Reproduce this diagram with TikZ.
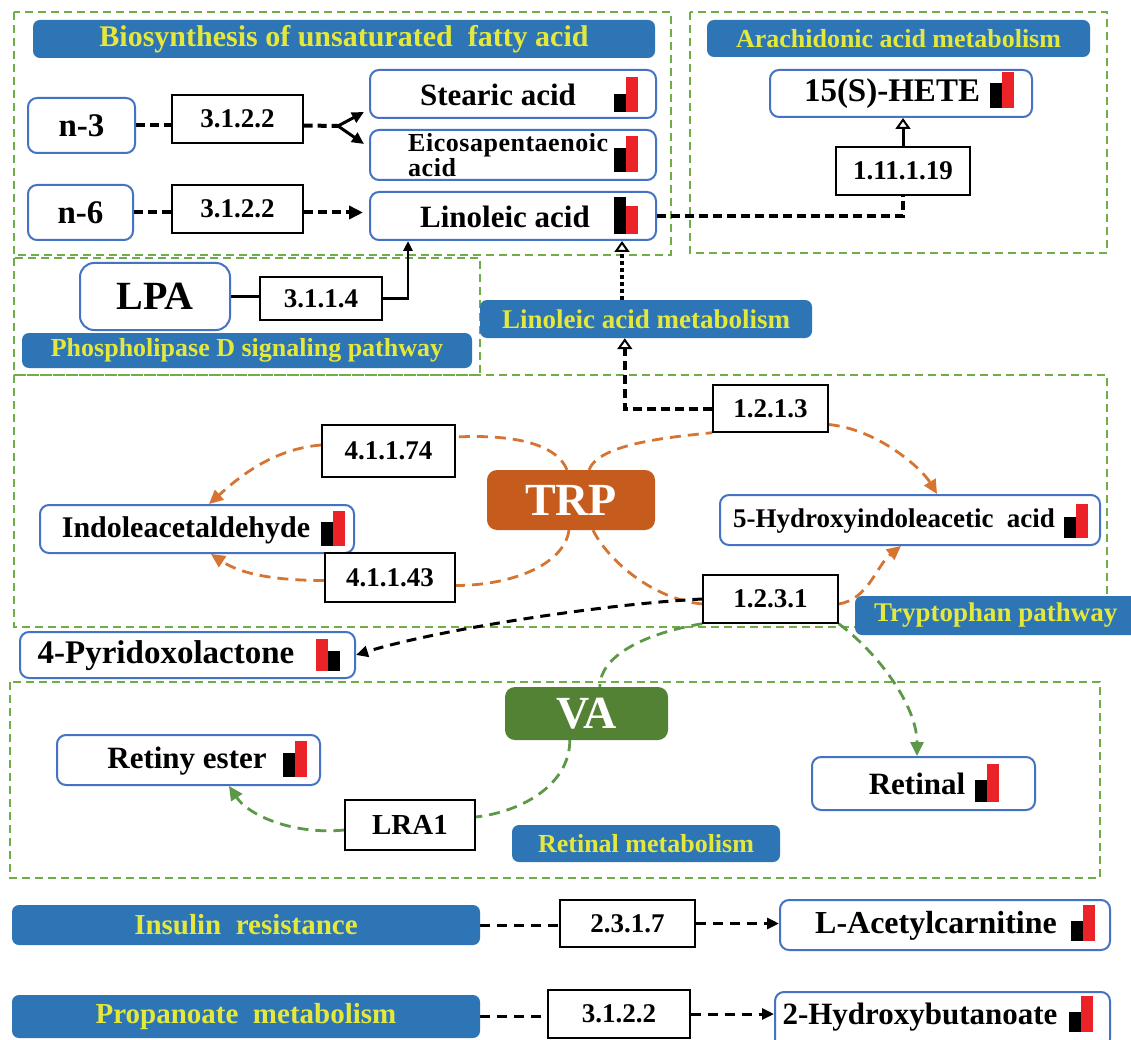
\documentclass[tikz,border=0pt]{standalone}
\usepackage{fontspec}
\setmainfont{Liberation Serif}
\usetikzlibrary{arrows.meta,calc,backgrounds}
\definecolor{grpgreen}{RGB}{112,173,71}
\definecolor{hdrblue}{RGB}{46,117,182}
\definecolor{hdrtext}{RGB}{228,232,60}
\definecolor{metblue}{RGB}{68,114,196}
\definecolor{trporange}{RGB}{197,92,30}
\definecolor{vagreen}{RGB}{84,130,53}
\definecolor{arrorange}{RGB}{214,116,50}
\definecolor{arrgreen}{RGB}{92,152,72}
\definecolor{barred}{RGB}{235,35,40}
\newcommand\bx[7]{\node[#2, minimum width={#5-#3}, minimum height={#6-#4}] (#1) at ({(#3+#5)/2},{(#4+#6)/2}) {#7};}
\newcommand\brbars[4]{\fill[black] (#1,#2) rectangle ++(12,-#3); \fill[barred] ({#1+12},#2) rectangle ++(12,-#4);}
\newcommand\rbbars[4]{\fill[barred] (#1,#2) rectangle ++(12,-#4); \fill[black] ({#1+12},#2) rectangle ++(12,-#3);}
\tikzset{
  nfont/.style={font=\bfseries\fontsize{#1}{#1}\selectfont},
  grp/.style={draw=grpgreen, line width=1.8pt, dash pattern=on 8pt off 5pt},
  hdr/.style={fill=hdrblue, rounded corners=7pt, text=hdrtext, inner sep=0pt, nfont=#1},
  hdr/.default=27,
  enz/.style={draw=black, line width=1.4pt, fill=white, inner sep=0pt, nfont=27},
  met/.style={draw=metblue, line width=2pt, rounded corners=9pt, fill=white, inner sep=0pt},
  mtx/.style={inner sep=0pt, nfont=#1},
  mtx/.default=31,
  hub/.style={rounded corners=10pt, text=white, inner sep=0pt, nfont=46},
  bdash/.style={draw=black, line width=4pt, dash pattern=on 9pt off 5pt},
  bdash2/.style={draw=black, line width=3pt, dash pattern=on 10pt off 7pt},
  odash/.style={draw=arrorange, line width=2.8pt, dash pattern=on 11pt off 7pt},
  gdash/.style={draw=arrgreen, line width=2.8pt, dash pattern=on 11pt off 7pt},
  ftip/.style={-{Triangle[length=14pt,width=13pt]}},
  stip/.style={-{Triangle[length=12pt,width=11pt]}},
  otip/.style={-{Triangle[open,length=11pt,width=15pt,line width=2pt,fill=white]}},
}
\begin{document}
\begin{tikzpicture}[x=1pt,y=-1pt]
\useasboundingbox (0,0) rectangle (1131,1040);
% headers
\bx{hbio}{hdr=30}{33}{20}{655}{58}{Biosynthesis of unsaturated\ \ fatty acid}
\bx{hara}{hdr=26}{707}{20}{1090}{57}{Arachidonic acid metabolism}
\bx{hpld}{hdr=26}{22}{333}{472}{368}{Phospholipase D signaling pathway}
\bx{hlam}{hdr=27}{480}{300}{812}{338}{Linoleic acid metabolism}
\bx{htrp}{hdr=27}{855}{596}{1150}{635}{Tryptophan pathway\ \ \ }
\bx{hret}{hdr=26}{512}{825}{780}{862}{Retinal metabolism}
\bx{hins}{hdr=29}{12}{905}{480}{945}{Insulin\ \ resistance}
\bx{hpro}{hdr=29}{12}{995}{480}{1038}{Propanoate\ \ metabolism}
% metabolite boxes
\bx{stear}{met}{370}{70}{656}{118}{}
\bx{eico}{met}{370}{130}{656}{180}{}
\bx{lino}{met}{370}{192}{656}{240}{}
\bx{hete}{met}{770}{70}{1032}{117}{}
\bx{n3}{met,nfont=33}{28}{98}{135}{153}{n-3}
\bx{n6}{met,nfont=33}{28}{185}{133}{240}{n-6}
\bx{lpa}{met,nfont=40,rounded corners=14pt}{80}{263}{230}{330}{LPA}
\bx{ind}{met}{40}{505}{354}{553}{}
\bx{hia}{met}{720}{495}{1100}{545}{}
\bx{pyr}{met}{20}{632}{355}{678}{}
\bx{rty}{met}{57}{735}{320}{785}{}
\bx{ret}{met}{812}{757}{1035}{810}{}
\bx{acet}{met}{780}{900}{1110}{950}{}
\bx{hb}{met}{775}{992}{1110}{1048}{}
% enzymes
\bx{e1}{enz}{172}{95}{303}{143}{3.1.2.2}
\bx{e2}{enz}{172}{185}{303}{233}{3.1.2.2}
\bx{e3}{enz}{836}{147}{970}{195}{1.11.1.19}
\bx{e4}{enz}{260}{277}{382}{320}{3.1.1.4}
\bx{e5}{enz}{713}{385}{828}{432}{1.2.1.3}
\bx{e6}{enz}{322}{425}{455}{477}{4.1.1.74}
\bx{e7}{enz}{325}{553}{455}{602}{4.1.1.43}
\bx{e8}{enz}{703}{575}{838}{623}{1.2.3.1}
\bx{e9}{enz}{560}{900}{695}{947}{2.3.1.7}
\bx{e10}{enz}{548}{990}{690}{1038}{3.1.2.2}
\bx{lra}{enz,nfont=29}{345}{800}{475}{850}{LRA1}
% hubs
\bx{trp}{hub,fill=trporange}{487}{470}{655}{530}{TRP}
\bx{va}{hub,fill=vagreen}{505}{687}{668}{740}{VA}
% metabolite texts
\node[mtx] (stear-t) at (498,95) {Stearic acid};
\node[inner sep=0pt, anchor=west, align=left, font=\bfseries\fontsize{26}{17}\selectfont\addfontfeature{LetterSpace=2}] (eico-t) at (408,155) {Eicosapentaenoic\\acid};
\node[mtx] (lino-t) at (505,217) {Linoleic acid};
\node[mtx=33] (hete-t) at (892,94) {15(S)-HETE};
\node[mtx=30] (ind-t) at (186,530) {Indoleacetaldehyde};
\node[mtx=27] (hia-t) at (894,521) {5-Hydroxyindoleacetic\ \ acid};
\node[mtx=33] (pyr-t) at (166,656) {4-Pyridoxolactone};
\node[mtx=31] (rty-t) at (187,761) {Retiny ester};
\node[mtx=31] (ret-t) at (917,784) {Retinal};
\node[mtx=32] (acet-t) at (936,926) {L-Acetylcarnitine};
\node[mtx=31] (hb-t) at (920,1017) {2-Hydroxybutanoate};
% bars
\brbars{614}{112}{18}{35}
\brbars{614}{172}{24}{36}
\brbars{614}{234}{37}{28}
\brbars{990}{108}{25}{36}
\brbars{321}{546}{24}{35}
\brbars{1064}{538}{21}{34}
\rbbars{316}{671}{20}{32}
\brbars{283}{777}{24}{36}
\brbars{975}{802}{22}{38}
\brbars{1071}{941}{20}{36}
\brbars{1069}{1032}{20}{36}
\begin{pgfonlayer}{background}
  \fill[white] (0,0) rectangle (1131,1040);
  \draw[grp] (14,12) rectangle (671,255);
  \draw[grp] (690,12) rectangle (1107,253);
  \draw[grp] (14,258) rectangle (480,375);
  \draw[grp] (14,375) rectangle (1107,627);
  \draw[grp] (10,682) rectangle (1100,878);
  % top connectors
  \coordinate (fork) at (338,126);
  \draw[bdash] (n3.east) -- (n3.east -| e1.west);
  \draw[bdash] (e1.east |- n3) -- (fork);
  \draw[line width=3pt, stip] (fork) -- ([xshift=-5pt,yshift=7pt]stear.south west);
  \draw[line width=3pt, stip] (fork) -- ([xshift=-5pt,yshift=-15pt]eico.north west);
  \draw[bdash] (n6.east) -- (n6.east -| e2.west);
  \draw[bdash, ftip] (e2.east |- n6) -- ([xshift=-6pt]n6 -| lino.west);
  \draw[bdash] (lino.east) -| (e3.south);
  \draw[line width=3pt, otip] (e3.north) -- (e3.north |- hete.south);
  \coordinate (lbA) at ($(lino.south west)+(39,0)$);
  \coordinate (lbB) at ($(lino.south west)+(253,0)$);
  \draw[line width=2.6pt] (lpa.east) -- (lpa.east -| e4.west);
  \draw[line width=2.6pt, -{Triangle[length=10pt,width=9pt]}] (e4.east) -| (lbA);
  \draw[line width=4pt, dash pattern=on 4pt off 3pt, otip] (lbB |- hlam.north) -- (lbB);
  \draw[bdash, otip] (e5.west) -| ($(hlam.south west)+(145,0)$);
  % tryptophan curves
  \draw[odash] ([xshift=-4pt]trp.north) .. controls +(-10,-25) and +(60,-3) .. ([yshift=14pt]e6.east);
  \draw[odash, ftip] ([yshift=6pt]e6.west) .. controls +(-50,4) and +(28,-25) .. ([xshift=170pt]ind.north west);
  \draw[odash] ([xshift=-2pt]trp.south) .. controls +(-5,35) and +(55,0) .. ([yshift=-8pt]e7.east);
  \draw[odash, ftip] ([yshift=-3pt]e7.west) .. controls +(-50,0) and +(30,20) .. ([xshift=172pt]ind.south west);
  \draw[odash] ([xshift=18pt]trp.north) .. controls +(10,-25) and +(-50,5) .. (e5.south west);
  \draw[odash, ftip] ([yshift=-16pt]e5.east) .. controls +(50,5) and +(-15,-25) .. ([xshift=218pt]hia.north west);
  \draw[odash] ([xshift=22pt]trp.south) .. controls +(15,30) and +(-50,-5) .. ([yshift=-5pt]e8.west);
  \draw[odash, ftip] ([yshift=-5pt]e8.east) .. controls +(30,-5) and +(-25,20) .. ([xshift=182pt]hia.south west);
  \draw[bdash2, stip] (e8.west) .. controls +(-100,5) and +(80,-25) .. (pyr.east);
  % vitamin A curves
  \draw[gdash] (e8.south west) .. controls +(-60,10) and +(0,-30) .. ([xshift=95pt]va.north west);
  \draw[gdash, ftip] (e8.south east) .. controls +(40,30) and +(0,-50) .. ([xshift=106pt]ret.north west);
  \draw[gdash] ([xshift=65pt]va.south west) .. controls +(0,45) and +(45,-5) .. ([yshift=8pt]lra.east);
  \draw[gdash, ftip] ([yshift=-5pt]lra.west) .. controls +(-50,5) and +(20,30) .. ([xshift=173pt]rty.south west);
  % bottom rows
  \draw[bdash2] (hins.east) -- (hins.east -| e9.west);
  \draw[bdash2, stip] (e9.east) -- (e9.east -| acet.west);
  \draw[bdash2] (hpro.east) -- (hpro.east -| e10.west);
  \draw[bdash2, stip] (e10.east) -- (e10.east -| hb.west);
\end{pgfonlayer}
\end{tikzpicture}
\end{document}
